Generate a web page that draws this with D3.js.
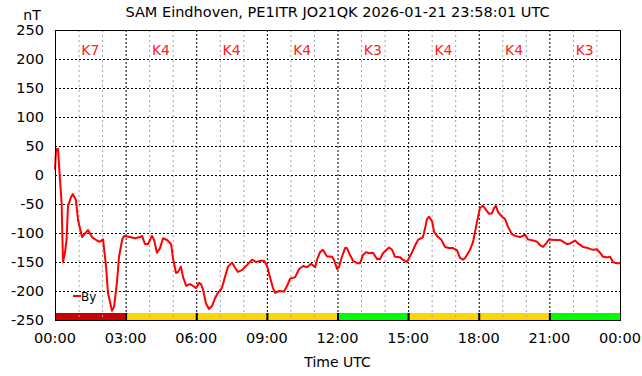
<!DOCTYPE html>
<html>
<head>
<meta charset="utf-8">
<script src="https://cdn.jsdelivr.net/npm/d3@7"></script>
<style>
  body { margin: 0; background: #fff; }
  text { font-family: "DejaVu Sans", sans-serif; }
</style>
</head>
<body>
<div id="chart"></div>
<script>
// By component, hours since 00:00 UTC and nT
const hours = [0.00, 0.04, 0.08, 0.13, 0.21, 0.28, 0.34, 0.42, 0.49, 0.55, 0.68, 0.76, 0.89, 0.98,
  1.15, 1.23, 1.40, 1.57, 1.78, 1.91, 2.04, 2.17, 2.25, 2.42, 2.51, 2.63, 2.72, 2.85, 2.93,
  3.19, 3.40, 3.61, 3.70, 3.82, 3.95, 4.12, 4.21, 4.33, 4.46, 4.59, 4.76, 4.93, 5.01, 5.14,
  5.23, 5.35, 5.44, 5.57, 5.73, 5.86, 5.99, 6.12, 6.20, 6.29, 6.41, 6.54, 6.67, 6.80, 6.92,
  7.09, 7.22, 7.35, 7.52, 7.65, 7.77, 7.94, 8.16, 8.37, 8.54, 8.71, 8.88, 9.01, 9.13, 9.26,
  9.35, 9.52, 9.73, 9.86, 9.98, 10.20, 10.37, 10.54, 10.71, 10.88, 11.05, 11.13, 11.26, 11.38,
  11.55, 11.77, 11.85, 11.98, 12.06, 12.19, 12.32, 12.40, 12.53, 12.66, 12.83, 12.96, 13.08,
  13.21, 13.34, 13.51, 13.68, 13.81, 13.93, 14.19, 14.32, 14.44, 14.66, 14.78, 14.95, 15.04,
  15.17, 15.29, 15.42, 15.63, 15.72, 15.80, 15.89, 16.02, 16.10, 16.23, 16.40, 16.57, 16.74,
  16.91, 17.08, 17.20, 17.33, 17.42, 17.63, 17.76, 17.93, 18.05, 18.18, 18.31, 18.44, 18.56,
  18.65, 18.73, 18.82, 18.99, 19.12, 19.24, 19.41, 19.54, 19.75, 19.97, 20.09, 20.31, 20.48,
  20.60, 20.73, 20.86, 20.99, 21.24, 21.45, 21.58, 21.75, 21.88, 22.09, 22.22, 22.43, 22.64,
  22.85, 23.02, 23.15, 23.28, 23.45, 23.58, 23.70, 23.83, 24.00];
const byValues = [9, 40, 45, 45, -8, -48, -150, -135, -112, -55, -38, -33, -43, -78,
  -107, -103, -95, -107, -113, -115, -111, -158, -203, -234, -227, -186, -141, -112, -105,
  -107, -109, -107, -105, -119, -119, -105, -112, -134, -126, -109, -112, -119, -143, -169,
  -167, -158, -176, -191, -188, -191, -195, -186, -188, -198, -221, -231, -226, -212, -203,
  -195, -176, -158, -151, -160, -167, -164, -155, -146, -150, -148, -148, -157, -176, -195,
  -203, -200, -201, -191, -179, -176, -162, -157, -159, -153, -159, -146, -133, -129,
  -140, -141, -146, -162, -159, -141, -126, -126, -138, -148, -152, -152, -138,
  -133, -135, -134, -145, -145, -135, -125, -129, -141, -142, -146, -150, -143,
  -133, -122, -112, -107, -92, -76, -72, -80, -98, -105, -111, -124, -126,
  -126, -130, -143, -146, -143, -129, -115, -80, -57, -53, -60, -67, -66,
  -57, -53, -64, -72, -76, -89, -102, -105, -107, -103, -111, -113, -115,
  -121, -124, -118, -111, -112, -112, -115, -119, -118, -113, -118, -124, -126,
  -129, -128, -134, -141, -142, -141, -150, -152, -152];

// K index per 3-hour block
const kLabels = ["K7", "K4", "K4", "K4", "K3", "K4", "K4", "K3"];
const kColors = { K7: "#cc0000", K4: "#ffd700", K3: "#00ff00" };

const yTicks = [250, 200, 150, 100, 50, 0, -50, -100, -150, -200, -250];
const xTickLabels = ["00:00", "03:00", "06:00", "09:00", "12:00", "15:00", "18:00", "21:00", "00:00"];

const title = "SAM Eindhoven, PE1ITR JO21QK 2026-01-21 23:58:01 UTC";

const W = 642, H = 376;
const margin = { top: 30, right: 22, bottom: 56, left: 55 };
const width = W - margin.left - margin.right,
  height = H - margin.top - margin.bottom;

const svg = d3.select("#chart").append("svg")
  .attr("width", W).attr("height", H);
const g = svg.append("g")
  .attr("transform", "translate(" + margin.left + "," + margin.top + ")");

const x = d3.scaleLinear().domain([0, 24]).range([0, width]);
const y = d3.scaleLinear().domain([-250, 250]).range([height, 0]);

// K index bar along the bottom
const barH = 7;
g.selectAll(".kbar")
  .data(kLabels)
  .enter().append("rect")
  .attr("x", (d, i) => x(i * 3))
  .attr("y", height - barH)
  .attr("width", x(3) - x(0))
  .attr("height", barH)
  .style("fill", d => kColors[d]);

// grid: hourly grey dashes, 3-hourly black dots
g.selectAll(".hgrid")
  .data(d3.range(1, 24).filter(h => h % 3 != 0))
  .enter().append("line")
  .attr("x1", d => x(d) + 0.5).attr("x2", d => x(d) + 0.5)
  .attr("y1", 0).attr("y2", height)
  .style("stroke", "#a0a0a0")
  .style("stroke-dasharray", "2,3");
g.selectAll(".vgrid")
  .data(d3.range(3, 24, 3))
  .enter().append("line")
  .attr("x1", d => x(d) + 0.5).attr("x2", d => x(d) + 0.5)
  .attr("y1", 0).attr("y2", height)
  .style("stroke", "#000")
  .style("stroke-dasharray", "2,2");
g.selectAll(".ygrid")
  .data(yTicks.slice(1, -1))
  .enter().append("line")
  .attr("x1", 0).attr("x2", width)
  .attr("y1", d => Math.round(y(d)) + 0.5).attr("y2", d => Math.round(y(d)) + 0.5)
  .style("stroke", "#000")
  .style("stroke-dasharray", "2,2");

// separators inside the K bar
g.selectAll(".ksep")
  .data(d3.range(3, 24, 3))
  .enter().append("line")
  .attr("x1", d => x(d) + 0.5).attr("x2", d => x(d) + 0.5)
  .attr("y1", height - barH).attr("y2", height)
  .style("stroke", "#000").style("stroke-width", 2);

// K labels
g.selectAll(".klabel")
  .data(kLabels)
  .enter().append("text")
  .attr("x", (d, i) => x(i * 3 + 1.5))
  .attr("y", 25)
  .attr("text-anchor", "middle")
  .style("font-size", "14px")
  .style("fill", "#ff2020")
  .text(d => d);

// By line
const line = d3.line()
  .x((d, i) => x(hours[i]))
  .y(d => y(d));
g.append("path")
  .datum(byValues)
  .attr("d", line)
  .style("fill", "none")
  .style("stroke", "#ff0000")
  .style("stroke-width", 2)
  .style("stroke-linejoin", "round");

// frame
g.append("rect")
  .attr("x", 0.5).attr("y", 0.5)
  .attr("width", width).attr("height", height)
  .style("fill", "none").style("stroke", "#000");

// axes labels
g.selectAll(".ytick")
  .data(yTicks)
  .enter().append("text")
  .attr("x", -11)
  .attr("y", d => y(d) + 5)
  .attr("text-anchor", "end")
  .style("font-size", "14.5px")
  .text(d => d);
g.selectAll(".xtick")
  .data(xTickLabels)
  .enter().append("text")
  .attr("x", (d, i) => x(i * 3))
  .attr("y", height + 23)
  .attr("text-anchor", "middle")
  .style("font-size", "14.5px")
  .text(d => d);

svg.append("text")
  .attr("x", 32).attr("y", 20)
  .attr("text-anchor", "middle")
  .style("font-size", "14px")
  .text("nT");
svg.append("text")
  .attr("x", margin.left + width / 2).attr("y", 17)
  .attr("text-anchor", "middle")
  .style("font-size", "14.5px")
  .text(title);
svg.append("text")
  .attr("x", margin.left + width / 2).attr("y", 367)
  .attr("text-anchor", "middle")
  .style("font-size", "14px")
  .text("Time UTC");

// legend
g.append("line")
  .attr("x1", 18).attr("x2", 26)
  .attr("y1", 266).attr("y2", 266)
  .style("stroke", "#ff0000").style("stroke-width", 2);
g.append("text")
  .attr("x", 26).attr("y", 271)
  .style("font-size", "12px")
  .text("By");
</script>
</body>
</html>
